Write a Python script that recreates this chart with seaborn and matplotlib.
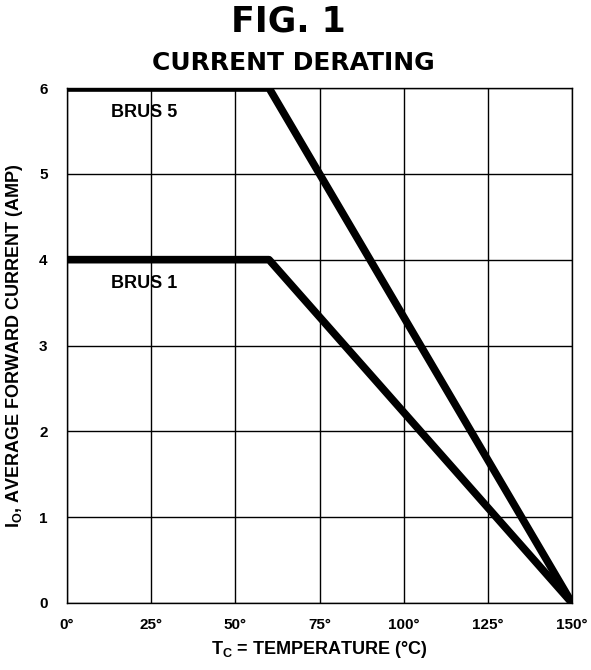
import matplotlib
matplotlib.use("Agg")
import matplotlib.pyplot as plt
import seaborn as sns
import pandas as pd

# Data
temp_brus5 = [0, 60, 150]
amp_brus5 = [6, 6, 0]
temp_brus1 = [0, 60, 150]
amp_brus1 = [4, 4, 0]
series_names = ["BRUS 5", "BRUS 1"]
x_ticks = [0, 25, 50, 75, 100, 125, 150]
x_tick_labels = ["0°", "25°", "50°", "75°", "100°", "125°", "150°"]
y_ticks = [0, 1, 2, 3, 4, 5, 6]
y_tick_labels = ["0", "1", "2", "3", "4", "5", "6"]

df = pd.concat([
    pd.DataFrame({"temp": temp_brus5, "amp": amp_brus5, "series": series_names[0]}),
    pd.DataFrame({"temp": temp_brus1, "amp": amp_brus1, "series": series_names[1]}),
])

sns.set_theme(style="white")
plt.rcParams["font.family"] = ["Liberation Sans", "DejaVu Sans"]
plt.rcParams["text.color"] = "black"
plt.rcParams["axes.labelcolor"] = "black"
plt.rcParams["xtick.color"] = "black"
plt.rcParams["ytick.color"] = "black"
plt.rcParams["mathtext.fontset"] = "custom"
plt.rcParams["mathtext.rm"] = "Liberation Sans:bold"
plt.rcParams["mathtext.bf"] = "Liberation Sans:bold"
plt.rcParams["mathtext.it"] = "Liberation Sans:bold"

fig = plt.figure(figsize=(5.91, 6.70), dpi=100)
ax = fig.add_axes([67 / 591, 1 - 603 / 670, 505 / 591, 515 / 670])

sns.lineplot(data=df, x="temp", y="amp", hue="series", units="series",
             estimator=None, palette=["black", "black"], linewidth=5.5,
             legend=False, ax=ax, solid_capstyle="butt", sort=False, zorder=3)

ax.set_xlim(0, 150)
ax.set_ylim(0, 6)
ax.set_xticks(x_ticks)
ax.set_xticklabels(x_tick_labels, fontsize=11, fontweight="bold")
ax.set_yticks(y_ticks)
ax.set_yticklabels(y_tick_labels, fontsize=11, fontweight="bold")
ax.tick_params(axis="both", length=0, pad=14)
ax.tick_params(axis="x", pad=11)
ax.grid(True, color="black", linewidth=1.0)
for s in ax.spines.values():
    s.set_color("black")
    s.set_linewidth(1.0)

ax.text(13, 5.72, "BRUS 5", fontsize=13, fontweight="bold", va="center", ha="left")
ax.text(13, 3.72, "BRUS 1", fontsize=13, fontweight="bold", va="center", ha="left")

ax.set_xlabel(r"$\mathrm{T_C}$ = TEMPERATURE (°C)", fontsize=13, fontweight="bold", labelpad=5)
ax.set_ylabel(r"I$_\mathrm{O}$, AVERAGE FORWARD CURRENT (AMP)", fontsize=13, fontweight="bold", labelpad=10)

fig.text(288 / 591, 1 - 21 / 670, "FIG. 1", fontsize=25, fontweight="heavy",
         family="DejaVu Sans", ha="center", va="center")
fig.text(293 / 591, 1 - 63 / 670, "CURRENT DERATING", fontsize=18, fontweight="heavy",
         family="DejaVu Sans", ha="center", va="center")

fig.savefig("out.png", dpi=100, facecolor="white")
